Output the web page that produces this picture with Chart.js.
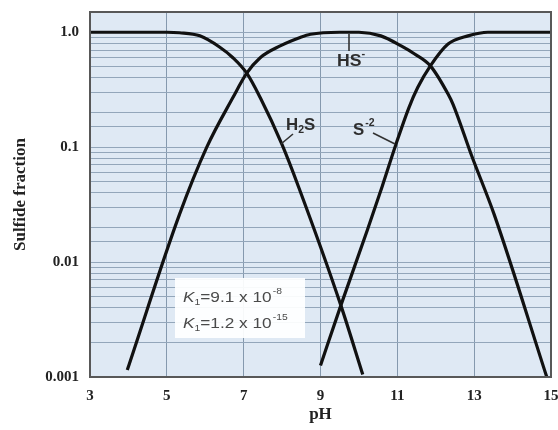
<!DOCTYPE html>
<html>
<head>
<meta charset="utf-8">
<script src="https://cdn.jsdelivr.net/npm/chart.js@4.4.1/dist/chart.umd.min.js"></script>
<style>
  html,body{margin:0;padding:0;background:#fff;}
  #wrap{width:558px;height:430px;}
</style>
</head>
<body>
<div id="wrap"><canvas id="c" width="558" height="430"></canvas></div>
<script>
// ---- data ----
const xTicks = [3, 5, 7, 9, 11, 13, 15];
const yTickLabels = ['0.001', '0.01', '0.1', '1.0'];

const h2sPH   = [3, 5.0, 5.33, 5.86, 6.38, 6.72, 7.08, 7.43, 8.0, 8.43, 9.53, 10.1];
const h2sFrac = [1.0, 1.0, 0.99, 0.93, 0.74, 0.60, 0.44, 0.27, 0.105, 0.045, 0.0042, 0.00105];

const hsPH    = [3.97, 5.33, 6.04, 6.72, 7.08, 7.43, 7.95, 8.47, 8.74, 9.5, 10.0, 10.57, 11.1, 11.44, 11.86, 12.32, 12.45, 12.93, 13.52, 14.89];
const hsFrac  = [0.00115, 0.026, 0.1, 0.27, 0.44, 0.60, 0.76, 0.90, 0.96, 1.0, 1.0, 0.93, 0.76, 0.65, 0.51, 0.29, 0.236, 0.085, 0.026, 0.001];

const s2PH    = [9.0, 9.53, 10.22, 10.61, 10.96, 11.3, 11.53, 11.86, 12.32, 12.84, 13.36, 15];
const s2Frac  = [0.00126, 0.0042, 0.019, 0.046, 0.105, 0.22, 0.33, 0.51, 0.79, 0.93, 1.0, 1.0];

const k1Text = ['=9.1 x 10', '-8'];
const k2Text = ['=1.2 x 10', '-15'];

function pts(xs, ys){ return xs.map((x,i)=>({x:x, y:ys[i]})); }

const curveStyle = {
  showLine: true, pointRadius: 0, borderColor: '#111', borderWidth: 3.2,
  cubicInterpolationMode: 'monotone', fill: false
};

function rich(ctx, x, y, parts, stretch){
  ctx.save();
  ctx.translate(x, y);
  ctx.scale(stretch || 1, 1);
  let cx = 0;
  for (const p of parts){
    ctx.font = p.font;
    ctx.fillStyle = p.color;
    ctx.textBaseline = 'alphabetic';
    ctx.fillText(p.t, cx, p.dy || 0);
    cx += ctx.measureText(p.t).width + (p.gap || 0);
  }
  ctx.restore();
}

const decor = {
  id: 'decor',
  beforeDraw(chart){
    const {ctx, chartArea:a} = chart;
    ctx.save();
    ctx.fillStyle = '#dfe9f4';
    ctx.fillRect(a.left, a.top, a.right - a.left, a.bottom - a.top);
    ctx.restore();
  },
  beforeDatasetsDraw(chart){
    const {ctx} = chart;
    ctx.save();
    ctx.fillStyle = 'rgba(255,255,255,0.93)';
    ctx.fillRect(175, 278, 130, 60);
    const col = '#4a4a4a';
    const big = '15px "Liberation Sans", Arial, sans-serif';
    const it = 'italic 15px "Liberation Sans", Arial, sans-serif';
    const sm = '9px "Liberation Sans", Arial, sans-serif';
    rich(ctx, 183, 302, [
      {t:'K', font:it, color:col},
      {t:'1', font:sm, color:col, dy:3},
      {t:k1Text[0], font:big, color:col, gap:1},
      {t:k1Text[1], font:sm, color:col, dy:-8}
    ], 1.15);
    rich(ctx, 183, 328, [
      {t:'K', font:it, color:col},
      {t:'1', font:sm, color:col, dy:3},
      {t:k2Text[0], font:big, color:col, gap:1},
      {t:k2Text[1], font:sm, color:col, dy:-8}
    ], 1.15);
    ctx.restore();
  },
  afterDatasetsDraw(chart){
    const {ctx, chartArea:a} = chart;
    ctx.save();
    const col = '#2e2e2e';
    const bold = 'bold 16px "Liberation Sans", Arial, sans-serif';
    const bsm = 'bold 10px "Liberation Sans", Arial, sans-serif';
    ctx.strokeStyle = '#333';
    ctx.lineWidth = 1.6;
    ctx.beginPath();
    ctx.moveTo(349, 34); ctx.lineTo(349, 51);
    ctx.moveTo(293, 134); ctx.lineTo(281, 144);
    ctx.moveTo(373, 133); ctx.lineTo(395, 144);
    ctx.stroke();
    rich(ctx, 337, 66, [
      {t:'HS', font:bold, color:col},
      {t:'-', font:bsm, color:col, dy:-9}
    ], 1.1);
    rich(ctx, 286, 130, [
      {t:'H', font:bold, color:col},
      {t:'2', font:bsm, color:col, dy:3},
      {t:'S', font:bold, color:col}
    ], 1.05);
    rich(ctx, 353, 135, [
      {t:'S', font:bold, color:col, gap:1},
      {t:'-2', font:bsm, color:col, dy:-9}
    ], 1.05);
    ctx.strokeStyle = '#585858';
    ctx.lineWidth = 2;
    ctx.strokeRect(a.left, a.top, a.right - a.left, a.bottom - a.top);
    ctx.restore();
  }
};

const serifBold = (s) => ({family: '"Liberation Serif", "Times New Roman", serif', size: s, weight: 'bold'});

new Chart(document.getElementById('c'), {
  type: 'scatter',
  data: {
    datasets: [
      Object.assign({label:'H2S', data: pts(h2sPH, h2sFrac)}, curveStyle),
      Object.assign({label:'HS-', data: pts(hsPH, hsFrac)}, curveStyle),
      Object.assign({label:'S-2', data: pts(s2PH, s2Frac)}, curveStyle)
    ]
  },
  options: {
    responsive: false,
    animation: false,
    layout: {padding: {top: 12, right: 7, left: 0, bottom: 0}},
    plugins: {legend: {display: false}, tooltip: {enabled: false}},
    scales: {
      x: {
        type: 'linear', min: xTicks[0], max: xTicks[xTicks.length-1],
        afterBuildTicks(scale){ scale.ticks = xTicks.map(v => ({value: v})); },
        afterFit(scale){ scale.height = 53; scale.paddingLeft = 0; scale.paddingRight = 0; },
        grid: {color: '#8599ae', lineWidth: 1, drawTicks: false},
        border: {display: false},
        ticks: {font: serifBold(15), color: '#222', padding: 10, autoSkip: false, maxRotation: 0,
                callback: v => String(v)},
        title: {display: true, text: 'pH', font: serifBold(17), color: '#222', padding: {top: 0, bottom: 5}}
      },
      y: {
        type: 'logarithmic', min: 0.001, max: 1.5,
        afterFit(scale){ scale.width = 90; scale.paddingTop = 0; scale.paddingBottom = 0; },
        grid: {color: '#93a6ba', lineWidth: 1, drawTicks: false},
        border: {display: false},
        ticks: {
          font: serifBold(15), color: '#222', padding: 11, autoSkip: false,
          callback: function(v){
            const l = Math.log10(v);
            if (Math.abs(l - Math.round(l)) < 1e-6) {
              const idx = Math.round(l) + 3;
              return yTickLabels[idx] !== undefined ? yTickLabels[idx] : '';
            }
            return '';
          }
        },
        title: {display: true, text: 'Sulfide fraction', font: serifBold(17), color: '#222', padding: {top: 10, bottom: 0}}
      }
    }
  },
  plugins: [decor]
});
</script>
</body>
</html>
